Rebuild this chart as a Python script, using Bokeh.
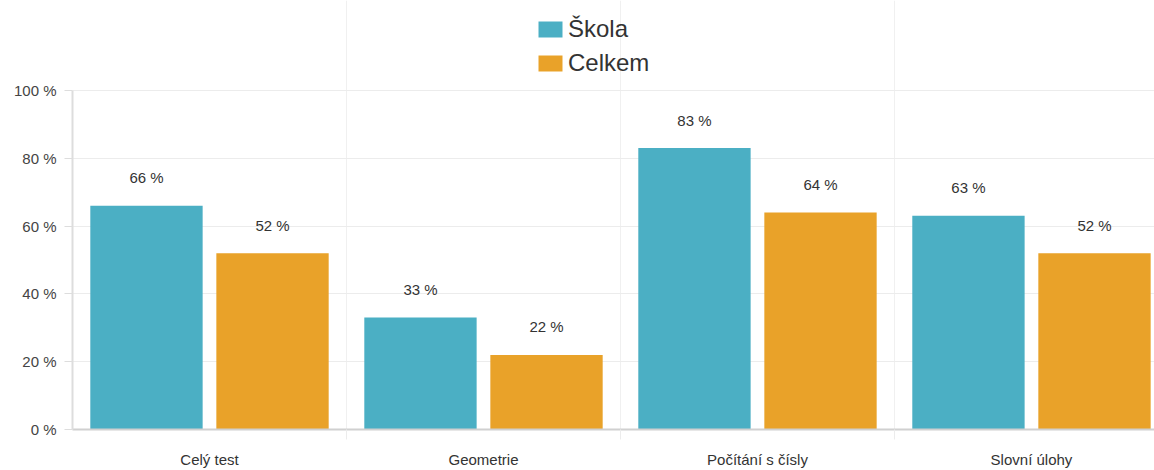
from bokeh.plotting import figure
from bokeh.models import (ColumnDataSource, Range1d, FixedTicker, PrintfTickFormatter,
                          Legend, LegendItem, LabelSet)
from bokeh.embed import file_html
from bokeh.resources import INLINE
from bokeh.core.properties import value

categories = ["Celý test", "Geometrie", "Počítání s čísly", "Slovní úlohy"]
skola = [66, 33, 83, 63]
celkem = [52, 22, 64, 52]
series_names = ["Škola", "Celkem"]
y_ticks = [0, 20, 40, 60, 80, 100]

COL_S = "#4BAFC4"
COL_C = "#E9A229"
FONT = "Liberation Sans"

idx = list(range(len(categories)))
dodge = 0.23
bw = 0.41

src_s = ColumnDataSource(dict(x=[i - dodge for i in idx], top=skola,
                              lab=[f"{v} %" for v in skola]))
src_c = ColumnDataSource(dict(x=[i + dodge for i in idx], top=celkem,
                              lab=[f"{v} %" for v in celkem]))

p = figure(width=1154, height=470, output_backend="svg", toolbar_location=None,
           x_range=Range1d(-0.5, 3.449), y_range=Range1d(0, 126.5),
           min_border_left=72, min_border_right=0, min_border_bottom=41, min_border_top=0)
p.outline_line_color = None
p.background_fill_color = "white"
p.border_fill_color = "white"

r1 = p.vbar(x="x", top="top", width=bw, source=src_s, fill_color=COL_S, line_color=None)
r2 = p.vbar(x="x", top="top", width=bw, source=src_c, fill_color=COL_C, line_color=None)

for src in (src_s, src_c):
    p.add_layout(LabelSet(x="x", y="top", text="lab", source=src, text_align="center",
                          text_baseline="middle", y_offset=28, text_font=value(FONT),
                          text_font_size="15px", text_color="#333333"))

# x axis
p.xaxis.ticker = FixedTicker(ticks=idx, minor_ticks=[i + 0.5 for i in idx[:-1]])
p.xaxis.major_label_overrides = {i: c for i, c in enumerate(categories)}
p.xaxis.major_tick_out = 0
p.xaxis.major_tick_in = 0
p.xaxis.minor_tick_out = 10
p.xaxis.minor_tick_in = 0
p.xaxis.minor_tick_line_color = "#ececec"
p.xaxis.axis_line_color = "#d0d0d0"
p.xaxis.axis_line_width = 2
p.xaxis.major_label_standoff = 11
p.xaxis.major_label_text_font = FONT
p.xaxis.major_label_text_font_size = "15px"
p.xaxis.major_label_text_color = "#333333"

# y axis
p.yaxis.ticker = FixedTicker(ticks=y_ticks)
p.yaxis.bounds = (0, 100)
p.yaxis.formatter = PrintfTickFormatter(format="%d %%")
p.yaxis.major_tick_out = 8
p.yaxis.major_tick_in = 0
p.yaxis.minor_tick_line_color = None
p.yaxis.major_tick_line_color = "#dddddd"
p.yaxis.axis_line_color = "#dddddd"
p.yaxis.axis_line_width = 2
p.yaxis.major_label_standoff = 8
p.yaxis.major_label_text_font = FONT
p.yaxis.major_label_text_font_size = "15px"
p.yaxis.major_label_text_color = "#444444"

p.xgrid.ticker = FixedTicker(ticks=[i + 0.5 for i in idx[:-1]])
p.xgrid.bounds = (0, 100)
p.xgrid.grid_line_color = "#f0f0f0"
p.ygrid.ticker = FixedTicker(ticks=y_ticks[1:])
p.ygrid.grid_line_color = "#ececec"

legend = Legend(items=[LegendItem(label=series_names[0], renderers=[r1]),
                       LegendItem(label=series_names[1], renderers=[r2])],
                orientation="vertical", location=(463, 352.5),
                label_text_font=FONT, label_text_font_size="24px", label_text_color="#333333",
                glyph_width=30, glyph_height=20, label_height=25, spacing=6,
                padding=4, margin=0, border_line_color=None, label_standoff=3,
                background_fill_alpha=0)
p.add_layout(legend, "center")

open("out.html", "w").write(file_html(p, INLINE))
